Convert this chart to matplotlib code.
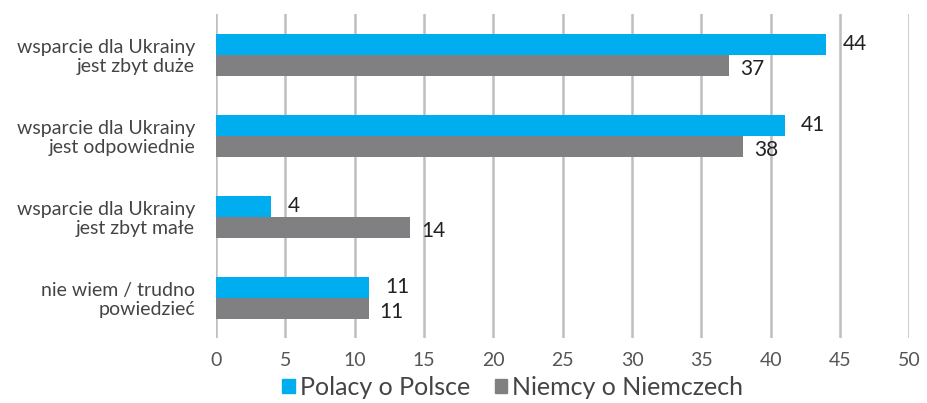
import matplotlib.pyplot as plt
import numpy as np
from matplotlib.patches import Patch

categories = ['wsparcie dla Ukrainy\njest zbyt duże',
              'wsparcie dla Ukrainy\njest odpowiednie',
              'wsparcie dla Ukrainy\njest zbyt małe',
              'nie wiem / trudno\npowiedzieć']
polacy = [44, 41, 4, 11]
niemcy = [37, 38, 14, 11]
series_names = ['Polacy o Polsce', 'Niemcy o Niemczech']
xticks = list(range(0, 55, 5))

blue = '#00AEEF'
grey = '#808083'

plt.rcParams['font.family'] = ['Lato', 'DejaVu Sans']

fig = plt.figure(figsize=(9.27, 4.03), dpi=100)
ax = fig.add_axes([0.233, 0.161, 0.748, 0.804])

y = np.arange(len(categories))
h = 0.26
ax.barh(y - h / 2, polacy, height=h, color=blue, zorder=3)
ax.barh(y + h / 2, niemcy, height=h, color=grey, zorder=3)

# etykiety wartości
for i, (p, n) in enumerate(zip(polacy, niemcy)):
    ax.text(p + 1.2, i - h / 2, str(p), va='center', ha='left',
            fontsize=15, color='#222222', zorder=4)
    ax.text(n + 0.8, i + h / 2 + 0.05, str(n), va='center', ha='left',
            fontsize=15, color='#222222', zorder=4)

ax.set_xlim(0, 50)
ax.set_ylim(3.5, -0.5)
ax.set_xticks(xticks)
ax.set_yticks(y)
ax.set_yticklabels(categories, fontsize=14, color='#444444', linespacing=1.1)
ax.tick_params(axis='x', labelsize=14, labelcolor='#555555', length=0, pad=10)
ax.tick_params(axis='y', length=0, pad=15)
ax.grid(axis='x', color='#BEBEBE', linewidth=1.8, zorder=0)
for s in ax.spines.values():
    s.set_visible(False)

handles = [Patch(color=blue), Patch(color=grey)]
fig.legend(handles, series_names, loc='lower center', bbox_to_anchor=(0.553, -0.045),
           ncol=2, frameon=False, fontsize=18, handlelength=0.5, handleheight=0.5,
           handletextpad=0.2, columnspacing=1.0, labelcolor='#444444')

fig.savefig('out.png', dpi=100)
